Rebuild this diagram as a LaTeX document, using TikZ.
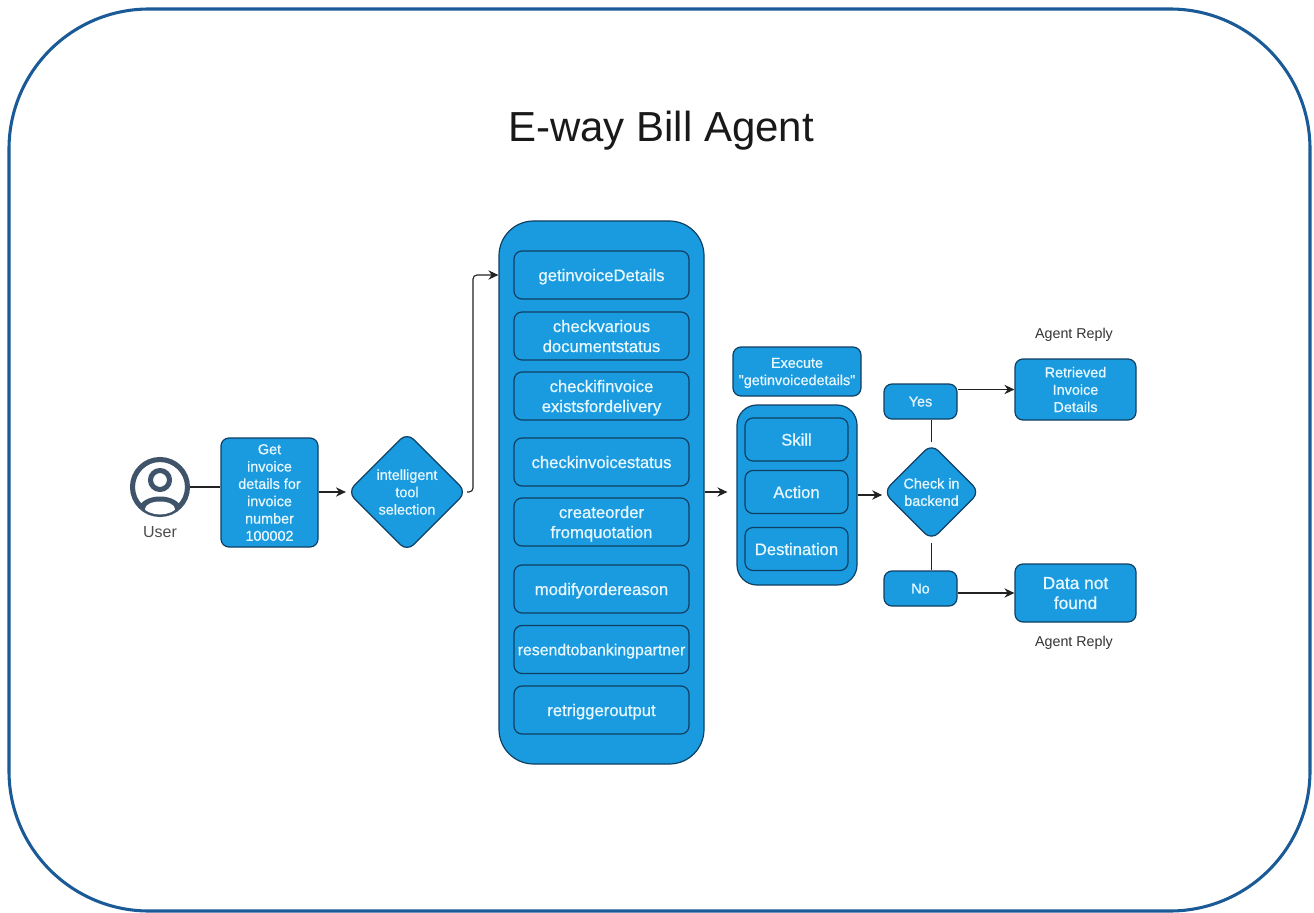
\documentclass[tikz,border=0pt]{standalone}
\usepackage{fontspec}
\setmainfont{Liberation Sans}
\newfontfamily\boxface[FakeBold=0.7]{Liberation Sans}
\usetikzlibrary{shapes.geometric,arrows.meta,calc}
\definecolor{boxblue}{HTML}{1A9BDF}
\definecolor{boxedge}{HTML}{0F3F63}
\definecolor{frameblue}{HTML}{1A5A96}
\definecolor{boxtext}{HTML}{E6F7FF}
\definecolor{iconc}{HTML}{3F5468}
\definecolor{linec}{HTML}{222222}
\tikzset{
  wh/.style 2 args={minimum width=#1*0.75pt,minimum height=#2*0.75pt},
  bluebox/.style={draw=boxedge,fill=boxblue,line width=0.9pt,text=boxtext,rounded corners=6pt,align=center,inner sep=0pt,text depth=0pt,font=\boxface\fontsize{10.8}{13}\selectfont},
  largetext/.style={font=\boxface\fontsize{12.5}{15}\selectfont},
  toolbox/.style={bluebox,largetext,wh={175}{48}},
  slotbox/.style={bluebox,largetext,wh={103}{43}},
  choice/.style={bluebox,shape=diamond,rounded corners=7pt,aspect=1},
  plain/.style={text=black!80,font=\fontsize{10.7}{13}\selectfont,inner sep=0pt},
  link/.style={draw=linec,line width=0.85pt},
  arrow/.style={link,-{Stealth[length=7.5pt,width=7pt]}},
}
\begin{document}
\begin{tikzpicture}[x=0.75pt,y=-0.75pt]
\useasboundingbox (0,0) rectangle (1314,913);
\draw[frameblue,line width=2.3pt,rounded corners=105pt] (9,9) rectangle (1310,911);
\node[font=\fontsize{31.5}{36}\selectfont,text=black!90,inner sep=0pt] (title) at (661,131) {E-way Bill Agent};

% user icon
\node[circle,draw=iconc,fill=white,line width=3.8pt,wh={55}{55},inner sep=0pt] (user) at (160,487) {};
\begin{scope}
\clip (160,487) circle (27.5);
\fill[iconc] (160,509) ellipse (21 and 12.5);
\fill[white] (160,509) ellipse (15 and 7.5);
\end{scope}
\draw[iconc,line width=3.8pt] (160,480) circle (9.5);
\node[plain,text=black!70,font=\fontsize{12}{14}\selectfont] (userlabel) at (160,532) {User};

\node[bluebox,wh={97}{109}] (get) at (269.5,492.5) {Get\\invoice\\details for\\invoice\\number\\100002};
\node[choice,wh={119}{119}] (tool) at (407,492) {intelligent\\tool\\selection};

\node[bluebox,wh={205}{543},rounded corners=26pt] (tools) at (601.5,492.5) {};
\node[toolbox] (t1) at (601.5,275) {getinvoiceDetails};
\node[toolbox] (t2) at (601.5,336) {checkvarious\\documentstatus};
\node[toolbox] (t3) at (601.5,396) {checkifinvoice\\existsfordelivery};
\node[toolbox] (t4) at (601.5,462) {checkinvoicestatus};
\node[toolbox] (t5) at (601.5,522) {createorder\\fromquotation};
\node[toolbox] (t6) at (601.5,589) {modifyordereason};
\node[toolbox,font=\boxface\fontsize{11.9}{15}\selectfont] (t7) at (601.5,649.5) {resendtobankingpartner};
\node[toolbox] (t8) at (601.5,710) {retriggeroutput};

\node[bluebox,wh={128}{49}] (exec) at (797,371.5) {Execute\\"getinvoicedetails"};
\node[bluebox,wh={120}{180},rounded corners=15pt] (params) at (797,495) {};
\node[slotbox] (skill) at (796.5,439.5) {Skill};
\node[slotbox] (action) at (796.5,492) {Action};
\node[slotbox] (dest) at (796.5,549) {Destination};

\node[choice,wh={96.5}{96.5}] (check) at (931.5,492) {Check in\\backend};
\node[bluebox,wh={73}{35}] (yes) at (920.5,401.5) {Yes};
\node[bluebox,wh={73}{35}] (no) at (920.5,588.5) {No};
\node[bluebox,wh={121}{61}] (found) at (1075.5,389.5) {Retrieved\\Invoice\\Details};
\node[bluebox,wh={121}{58},font=\boxface\fontsize{13}{15}\selectfont] (missing) at (1075.5,593) {Data not\\found};
\node[plain] (reply1) at (1074,335) {Agent Reply};
\node[plain] (reply2) at (1074,643) {Agent Reply};

\coordinate (elbow) at (473,492);
\draw[link] (user.east) -- (get.west |- user.east);
\draw[arrow] (get.east |- 0,492) -- ($(tool.west)+(-1,0)$);
\draw[arrow,rounded corners=3pt] (tool.east) -- (elbow) |- (tools.west |- t1.west);
\draw[arrow] (tools.east |- 0,492) -- ($(params.west |- 0,492)+(-9,0)$);
\draw[arrow] (params.east) -- ($(check.west)+(-0.5,3)$);
\draw[link] (check.north -| 931.5,0) ++(0,-1) -- (yes.south -| 931.5,0);
\draw[link] (check.south -| 931.5,0) ++(0,2) -- (no.north -| 931.5,0);
\draw[arrow] (yes.east |- found.west) -- (found.west);
\draw[arrow] (no.east |- missing.west) -- (missing.west);
\end{tikzpicture}
\end{document}
